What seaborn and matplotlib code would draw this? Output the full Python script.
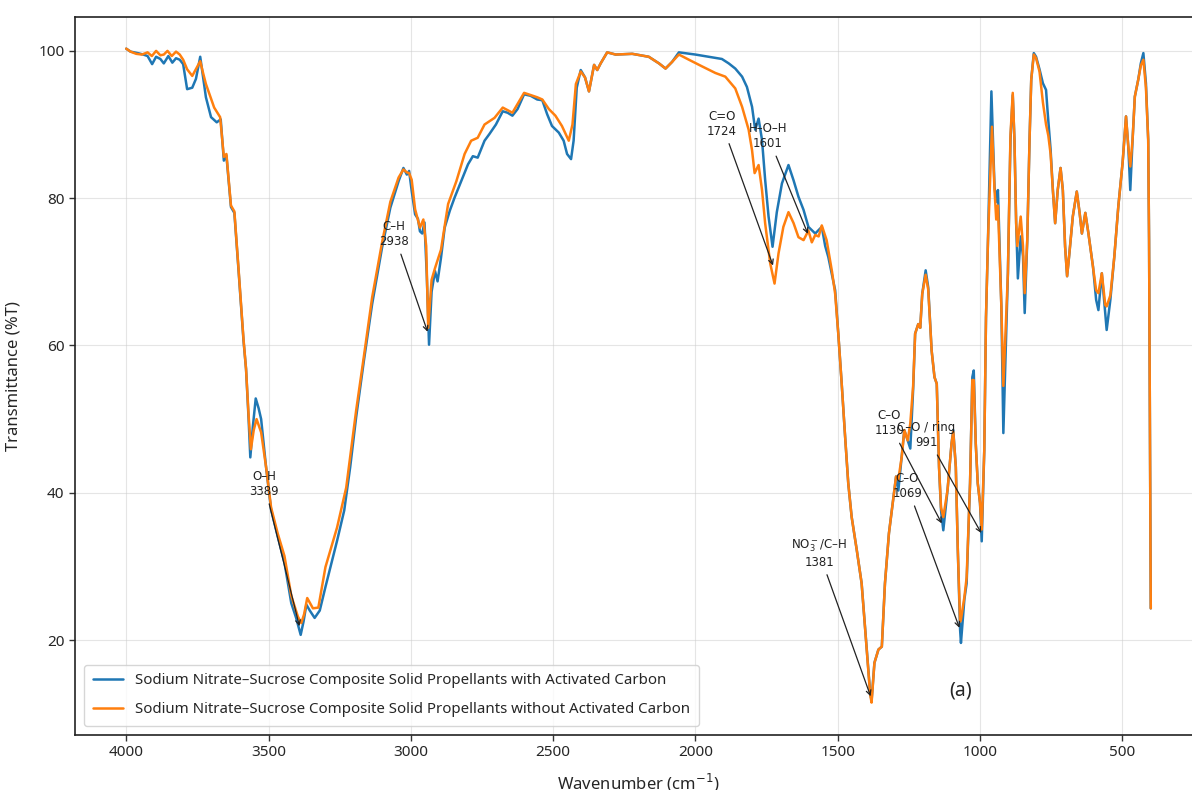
import numpy as np
import pandas as pd
import matplotlib
matplotlib.use("Agg")
import matplotlib.pyplot as plt
import seaborn as sns

# ---------------- data ----------------
label_with = "Sodium Nitrate\u2013Sucrose Composite Solid Propellants with Activated Carbon"
label_without = "Sodium Nitrate\u2013Sucrose Composite Solid Propellants without Activated Carbon"

wn_with = [4000, 3985, 3960, 3940, 3925, 3909, 3895, 3880, 3868, 3852, 3838, 3825, 3812, 3800,
           3786, 3768, 3755, 3740, 3730, 3720, 3702, 3682, 3668, 3657, 3648, 3632, 3620, 3605,
           3588, 3579, 3570, 3564, 3555, 3545, 3535, 3526, 3509, 3491, 3468, 3444, 3420, 3403,
           3387, 3377, 3367, 3355, 3338, 3320, 3300, 3259, 3234, 3213, 3192, 3165, 3136, 3101,
           3072, 3043, 3026, 3014, 3006, 2997, 2985, 2975, 2968, 2960, 2952, 2944, 2936, 2927,
           2915, 2906, 2894, 2881, 2863, 2846, 2823, 2799, 2782, 2765, 2741, 2724, 2701, 2677,
           2660, 2643, 2625, 2602, 2579, 2556, 2538, 2521, 2504, 2480, 2463, 2451, 2437, 2428,
           2417, 2403, 2388, 2374, 2356, 2345, 2333, 2310, 2280, 2222, 2164, 2128, 2105, 2082,
           2058, 2000, 1953, 1907, 1883, 1860, 1836, 1819, 1801, 1790, 1778, 1766, 1755, 1743,
           1729, 1714, 1696, 1673, 1655, 1638, 1620, 1603, 1579, 1556, 1544, 1533, 1509, 1498,
           1486, 1474, 1463, 1451, 1433, 1416, 1398, 1386, 1381, 1371, 1357, 1345, 1334, 1320,
           1304, 1295, 1287, 1275, 1266, 1254, 1245, 1235, 1228, 1217, 1210, 1203, 1191, 1182,
           1170, 1160, 1152, 1144, 1137, 1129, 1114, 1100, 1094, 1085, 1078, 1070, 1067, 1055,
           1047, 1035, 1027, 1022, 1015, 1008, 1000, 994, 985, 979, 972, 960, 949, 943, 937,
           925, 918, 902, 893, 885, 879, 873, 867, 857, 849, 843, 834, 826, 820, 811, 803,
           791, 779, 768, 762, 752, 744, 736, 727, 717, 709, 701, 694, 686, 674, 660, 650,
           642, 630, 619, 603, 592, 584, 572, 560, 555, 542, 528, 514, 499, 487, 479, 472,
           464, 456, 444, 435, 426, 417, 409, 406, 400]
t_with = [100.3, 99.9, 99.7, 99.5, 99.3, 98.2, 99.2, 98.9, 98.3, 99.3, 98.4, 99.0, 98.8, 98.2,
          94.8, 95.0, 96.2, 99.2, 96.5, 93.7, 91.0, 90.3, 90.7, 85.1, 85.8, 78.8, 78.0, 70.0,
          60.7, 56.8, 50.0, 44.8, 49.0, 52.8, 51.5, 50.0, 43.6, 37.7, 34.1, 30.5, 25.0, 23.0,
          20.7, 22.5, 24.8, 24.0, 23.0, 24.0, 27.2, 33.5, 37.6, 43.5, 50.3, 57.9, 65.6, 73.3,
          78.7, 82.3, 84.1, 83.2, 83.7, 81.0, 77.8, 77.2, 75.5, 75.2, 76.7, 69.6, 60.1, 67.3,
          70.1, 68.7, 71.9, 76.0, 78.3, 80.1, 82.3, 84.6, 85.7, 85.5, 87.8, 88.7, 90.0, 91.8,
          91.6, 91.2, 92.1, 94.1, 93.9, 93.4, 93.3, 91.4, 89.8, 88.9, 87.8, 86.0, 85.3, 87.8,
          95.0, 97.4, 96.4, 94.5, 98.1, 97.4, 98.3, 99.8, 99.5, 99.6, 99.2, 98.3, 97.6, 98.5,
          99.8, 99.5, 99.2, 98.9, 98.3, 97.6, 96.5, 95.1, 92.4, 89.3, 90.8, 87.9, 82.5, 77.5,
          73.4, 78.1, 82.0, 84.5, 82.4, 80.2, 78.4, 76.1, 75.2, 76.1, 73.5, 72.0, 67.5, 61.6,
          54.8, 47.6, 41.3, 36.7, 32.2, 27.7, 18.7, 12.8, 11.8, 16.9, 18.7, 19.1, 27.7, 34.5,
          39.5, 42.2, 40.3, 44.9, 48.5, 47.1, 46.0, 54.0, 61.6, 62.9, 62.4, 67.0, 70.2, 67.9,
          59.3, 55.7, 54.8, 43.5, 37.6, 34.9, 40.4, 46.7, 48.5, 43.5, 32.2, 21.4, 19.6, 25.5,
          27.7, 41.3, 55.7, 56.6, 46.7, 41.3, 38.6, 33.4, 45.8, 63.8, 74.3, 94.5, 81.5, 79.5, 81.1,
          65.3, 48.1, 69.8, 87.9, 94.0, 87.9, 76.6, 69.1, 74.8, 72.1, 64.4, 74.3, 87.9, 96.1, 99.7, 99.2,
          97.5, 95.6, 94.7, 91.5, 86.6, 81.1, 76.6, 81.1, 84.1, 81.1, 73.4, 69.4, 72.5, 77.5, 80.9, 78.0,
          75.2, 78.0, 75.2, 70.7, 66.2, 64.8, 69.8, 64.4, 62.1, 66.2, 72.1, 78.9, 84.8, 91.1, 87.0, 81.1,
          87.9, 93.8, 96.1, 98.3, 99.7, 95.6, 87.9, 74.3, 24.3]

wn_without = [4000, 3985, 3965, 3945, 3925, 3910, 3895, 3880, 3868, 3855, 3840, 3825, 3812, 3800,
              3786, 3768, 3751, 3740, 3730, 3720, 3691, 3670, 3657, 3648, 3632, 3620, 3605, 3588,
              3579, 3570, 3562, 3552, 3542, 3526, 3509, 3491, 3468, 3444, 3420, 3397, 3385, 3375,
              3364, 3344, 3325, 3300, 3259, 3227, 3192, 3165, 3136, 3101, 3072, 3043, 3026, 3014,
              3006, 2997, 2985, 2968, 2956, 2946, 2939, 2927, 2915, 2894, 2869, 2840, 2811, 2788,
              2765, 2741, 2706, 2677, 2643, 2602, 2556, 2538, 2515, 2492, 2469, 2445, 2432, 2420,
              2403, 2388, 2374, 2356, 2345, 2333, 2310, 2280, 2222, 2164, 2128, 2105, 2082, 2058,
              2023, 1977, 1930, 1895, 1860, 1836, 1813, 1801, 1792, 1778, 1766, 1755, 1737, 1722,
              1708, 1691, 1673, 1655, 1638, 1620, 1603, 1591, 1579, 1567, 1556, 1539, 1520, 1509,
              1498, 1486, 1474, 1463, 1451, 1433, 1416, 1398, 1386, 1381, 1371, 1357, 1345, 1334,
              1320, 1304, 1295, 1287, 1275, 1266, 1254, 1245, 1235, 1228, 1217, 1210, 1203, 1191,
              1182, 1170, 1160, 1152, 1144, 1137, 1129, 1114, 1100, 1094, 1085, 1078, 1070, 1067,
              1055, 1047, 1035, 1027, 1022, 1015, 1008, 1000, 994, 985, 979, 972, 958, 949, 943,
              937, 925, 918, 902, 893, 885, 879, 873, 869, 857, 849, 843, 834, 826, 820, 811,
              803, 791, 779, 768, 760, 752, 744, 736, 727, 717, 709, 701, 694, 686, 674, 660,
              650, 642, 630, 619, 603, 592, 584, 572, 560, 555, 542, 528, 514, 499, 487, 479,
              472, 464, 456, 444, 435, 426, 417, 409, 406, 400]
t_without = [100.3, 99.9, 99.6, 99.5, 99.8, 99.3, 100.0, 99.4, 99.5, 100.0, 99.3, 99.9, 99.5, 98.8,
             97.5, 96.6, 97.8, 98.6, 97.0, 95.5, 92.3, 91.0, 85.6, 86.0, 79.0, 78.2, 70.2, 60.9,
             56.8, 50.5, 45.9, 48.5, 50.0, 48.2, 43.6, 38.0, 34.5, 31.4, 26.0, 23.2, 22.3, 23.5,
             25.7, 24.3, 24.4, 29.9, 35.3, 40.7, 51.2, 58.5, 66.5, 74.0, 79.5, 82.8, 83.9, 83.5,
             83.4, 82.5, 78.5, 76.0, 77.1, 73.5, 62.4, 68.9, 70.5, 73.0, 79.2, 82.3, 86.0, 87.8,
             88.2, 90.0, 90.9, 92.3, 91.6, 94.3, 93.7, 93.4, 92.1, 91.2, 89.8, 87.8, 90.0, 95.5,
             97.2, 96.4, 94.5, 98.1, 97.4, 98.3, 99.8, 99.5, 99.6, 99.2, 98.3, 97.6, 98.5, 99.5,
             98.8, 97.9, 97.0, 96.5, 94.9, 92.4, 89.3, 86.5, 83.4, 84.5, 81.1, 76.6, 71.1, 68.4,
             72.5, 76.1, 78.1, 76.6, 74.7, 74.3, 75.6, 74.0, 75.0, 74.8, 76.3, 74.3, 70.0, 67.0,
             61.6, 54.8, 47.6, 41.3, 36.7, 32.2, 27.7, 18.7, 12.6, 11.5, 16.9, 18.7, 19.1, 27.7,
             34.5, 39.5, 42.2, 41.8, 44.9, 48.5, 47.1, 49.4, 54.5, 61.6, 62.9, 62.4, 67.0, 69.6,
             67.6, 59.3, 55.7, 54.8, 43.5, 38.0, 36.7, 40.4, 46.7, 48.3, 43.5, 32.2, 22.5, 22.8,
             25.8, 28.5, 41.3, 55.3, 55.3, 46.7, 41.3, 38.6, 35.0, 45.8, 63.8, 74.3, 89.7, 81.1, 77.1,
             79.0, 65.3, 54.5, 69.8, 88.5, 94.3, 87.9, 76.6, 73.5, 77.5, 73.5, 67.1, 74.3, 87.9, 96.1, 99.5,
             99.0, 97.2, 93.0, 90.0, 88.5, 86.0, 81.1, 76.6, 81.1, 84.1, 81.1, 73.4, 69.4, 72.5, 77.5, 80.9,
             78.0, 75.2, 78.0, 75.2, 70.7, 67.5, 67.1, 69.8, 65.5, 65.3, 66.8, 72.1, 78.9, 84.8, 91.1, 87.0,
             84.3, 87.9, 93.8, 96.1, 98.0, 98.8, 95.0, 87.9, 74.3, 24.3]

peak_labels = ["O\u2013H\n3389", "C\u2013H\n2938", "C=O\n1724", "H\u2013O\u2013H\n1601",
               "NO$_3^-$/C\u2013H\n1381", "C\u2013O\n1130", "C\u2013O / ring\n991", "C\u2013O\n1069"]
peak_xy = [(3389, 21.5), (2938, 61.5), (1724, 70.5), (1601, 74.8),
           (1381, 12.0), (1130, 35.5), (991, 34.2), (1069, 21.3)]
label_xy = [(3515, 41.2), (3059, 75.1), (1907, 90.1), (1745, 88.4),
            (1565, 31.8), (1319, 49.4), (1189, 47.8), (1256, 40.9)]

xticks = [4000, 3500, 3000, 2500, 2000, 1500, 1000, 500]
yticks = [20, 40, 60, 80, 100]

# ---------------- figure ----------------
sns.set_style("ticks")
plt.rcParams["font.family"] = ["Noto Sans", "DejaVu Sans"]

df = pd.concat([
    pd.DataFrame({"wn": wn_with, "T": t_with, "sample": label_with}),
    pd.DataFrame({"wn": wn_without, "T": t_without, "sample": label_without}),
], ignore_index=True)

fig = plt.figure(figsize=(11.92, 7.9), dpi=100)
ax = fig.add_axes([75 / 1192, 55 / 790, (1202 - 75) / 1192, (735 - 17) / 790])

sns.lineplot(data=df, x="wn", y="T", hue="sample", palette=["#1f77b4", "#ff7f0e"],
             estimator=None, sort=False, linewidth=1.8, ax=ax)

ax.set_xlim(4180, 220)
ax.set_ylim(7.1, 104.6)
ax.set_xticks(xticks)
ax.set_yticks(yticks)
ax.tick_params(labelsize=11, length=4, width=1, color="#333333")
ax.grid(True, color="#cccccc", alpha=0.5, linewidth=0.8)
for s in ["left", "bottom", "top"]:
    ax.spines[s].set_color("#222222")
    ax.spines[s].set_linewidth(1.2)

ax.set_xlabel("Wavenumber (cm$^{-1}$)", fontsize=12, labelpad=8)
ax.set_ylabel("Transmittance (%T)", fontsize=12, labelpad=12)

for txt, xy, xyt in zip(peak_labels, peak_xy, label_xy):
    ax.annotate(txt, xy=xy, xytext=xyt, ha="center", va="center", fontsize=8.5,
                family=["DejaVu Sans"], color="#222222",
                arrowprops=dict(arrowstyle="->", color="#222222", lw=0.9))

ax.text(1069, 13.2, "(a)", fontsize=14, ha="center", va="center")

leg = ax.legend(loc="lower left", fontsize=10.8, frameon=True, handlelength=2.0,
                labelspacing=0.9, borderaxespad=0.6, borderpad=0.6)
leg.get_frame().set_edgecolor("#cccccc")

fig.savefig("out.png", dpi=100)
